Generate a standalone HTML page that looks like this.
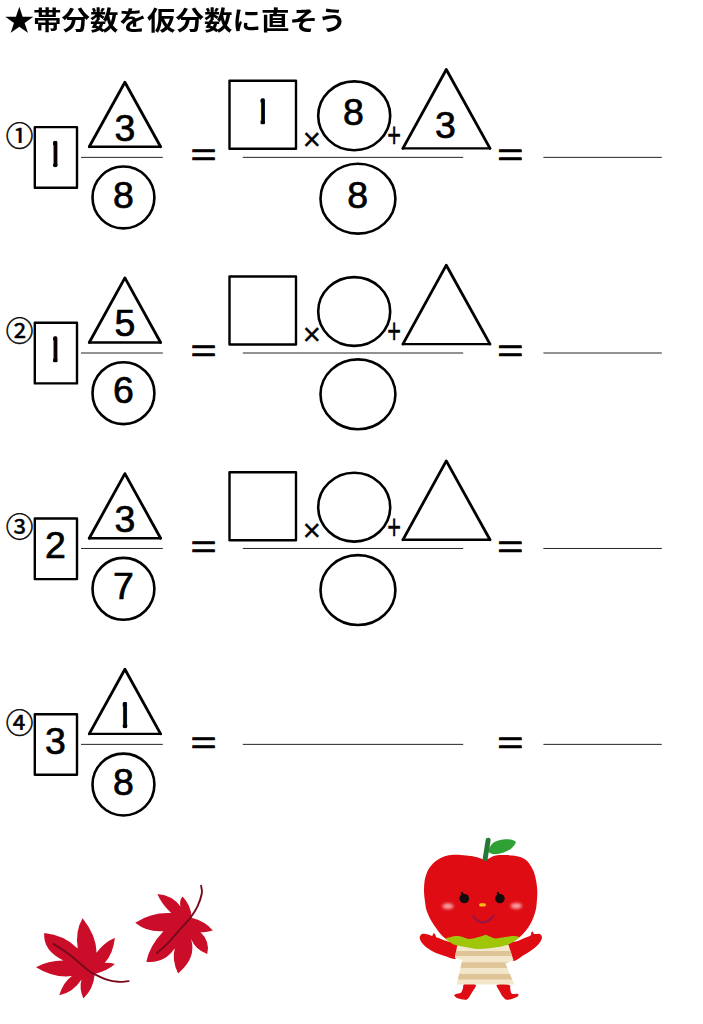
<!DOCTYPE html>
<html lang="ja">
<head>
<meta charset="utf-8">
<title>帯分数を仮分数に直そう</title>
<style>
html,body{margin:0;padding:0;background:#fff;}
body{width:703px;height:1024px;overflow:hidden;position:relative;font-family:"Liberation Sans","Noto Sans CJK JP",sans-serif;}
h1{position:absolute;left:4.6px;top:3px;margin:0;font-family:"Liberation Sans","Noto Sans CJK JP",sans-serif;font-weight:700;font-size:28.5px;line-height:40px;transform-origin:0 0;transform:scaleY(.91);color:#000;white-space:nowrap;}
h1 span{display:inline-block;transform:scale(1.04,1.12);transform-origin:45% 62%;}
svg{position:absolute;left:0;top:0;}
.s{fill:none;stroke:#000;stroke-width:2.4;stroke-linejoin:round;}
.r{stroke-linejoin:round;stroke-linecap:round;}
.k{stroke-width:2.8;}
.c2{stroke-width:2.6;}
.t{stroke:#000;stroke-width:.86;}
text{font-family:"Liberation Sans","Noto Sans CJK JP",sans-serif;fill:#000;text-anchor:middle;}
.d{font-size:36px;stroke:#000;stroke-width:.7px;stroke-linejoin:round;}
.c{font-size:27.6px;stroke:#000;stroke-width:.5px;stroke-linejoin:round;}
.e{font-size:40px;stroke:#000;stroke-width:.9px;stroke-linejoin:round;}
.o{stroke:#000;stroke-width:.35px;stroke-linejoin:round;}
</style>
</head>
<body>
<h1><span>★</span>帯分数を仮分数に直そう</h1>
<svg width="703" height="1024" viewBox="0 0 703 1024">
<defs><clipPath id="one"><rect x="-1.75" y="-25.9" width="4.5" height="26.8" rx="2.1"/></clipPath></defs>
<g>
<text class="c" x="19.45" y="145.5">①</text>
<rect class="s" x="34.8" y="127.1" width="42.2" height="60.6"/>
<g transform="translate(54.8 166.5)" clip-path="url(#one)"><text class="d" transform="scale(1.04 1)">1</text></g>
<polyline class="s r k" points="89.25,146.8 124.9,82.2 160.6,146.8"/><line class="s r" x1="89.25" y1="146.8" x2="160.6" y2="146.8"/>
<text class="d" transform="translate(125 140.7) scale(1.04 1)">3</text>
<line class="t" x1="81" y1="157.37" x2="162.8" y2="157.37"/>
<ellipse class="s c2" cx="123.45" cy="197.45" rx="30.95" ry="30.95"/>
<text class="d" transform="translate(123.4 207.5) scale(1.04 1)">8</text>
<text class="e" transform="translate(203.5 154.95) scale(1.12 0.8)" x="0" y="13.13">=</text>
<line class="t" x1="242.8" y1="157.37" x2="463.2" y2="157.37"/>
<rect class="s" x="229.5" y="80.8" width="66.5" height="68"/>
<g transform="translate(262.3 124.1)" clip-path="url(#one)"><text class="d" transform="scale(1.04 1)">1</text></g>
<text class="o" transform="translate(311.8 139.3) scale(1 1)" x="0" y="10.2" font-size="31">×</text>
<ellipse class="s c2" cx="354.2" cy="115.8" rx="36" ry="34.4"/>
<text class="d" transform="translate(353.5 125.4) scale(1.04 1)">8</text>
<text class="o" transform="translate(394 135.75) scale(0.84 1.25)" x="0" y="9.2" font-size="28">+</text>
<polyline class="s r k" points="402.9,148.4 446.3,69.5 490,148.4"/><line class="s r" x1="402.9" y1="148.4" x2="490" y2="148.4"/>
<text class="d" transform="translate(445.5 137.8) scale(1.04 1)">3</text>
<ellipse class="s c2" cx="357.95" cy="198.65" rx="37.45" ry="34.95"/>
<text class="d" transform="translate(357.6 207.9) scale(1.04 1)">8</text>
<text class="e" transform="translate(510.2 154.95) scale(1.12 0.8)" x="0" y="13.13">=</text>
<line class="t" x1="543.4" y1="157.37" x2="661.8" y2="157.37"/>
</g>
<g>
<text class="c" x="19.45" y="341.2">②</text>
<rect class="s" x="34.8" y="322.8" width="42.2" height="60.6"/>
<g transform="translate(54.8 362.2)" clip-path="url(#one)"><text class="d" transform="scale(1.04 1)">1</text></g>
<polyline class="s r k" points="89.25,342.5 124.9,277.9 160.6,342.5"/><line class="s r" x1="89.25" y1="342.5" x2="160.6" y2="342.5"/>
<text class="d" transform="translate(125 336.4) scale(1.04 1)">5</text>
<line class="t" x1="81" y1="353" x2="162.8" y2="353"/>
<ellipse class="s c2" cx="123.45" cy="393.15" rx="30.95" ry="30.95"/>
<text class="d" transform="translate(123.4 403.2) scale(1.04 1)">6</text>
<text class="e" transform="translate(203.5 350.65) scale(1.12 0.8)" x="0" y="13.13">=</text>
<line class="t" x1="242.8" y1="353" x2="463.2" y2="353"/>
<rect class="s" x="229.5" y="276.5" width="66.5" height="68"/>
<text class="o" transform="translate(311.8 335) scale(1 1)" x="0" y="10.2" font-size="31">×</text>
<ellipse class="s c2" cx="354.2" cy="311.5" rx="36" ry="34.4"/>
<text class="o" transform="translate(394 331.45) scale(0.84 1.25)" x="0" y="9.2" font-size="28">+</text>
<polyline class="s r k" points="402.9,344.1 446.3,265.2 490,344.1"/><line class="s r" x1="402.9" y1="344.1" x2="490" y2="344.1"/>
<ellipse class="s c2" cx="357.95" cy="394.35" rx="37.45" ry="34.95"/>
<text class="e" transform="translate(510.2 350.65) scale(1.12 0.8)" x="0" y="13.13">=</text>
<line class="t" x1="543.4" y1="353" x2="661.8" y2="353"/>
</g>
<g>
<text class="c" x="19.45" y="536.9">③</text>
<rect class="s" x="34.8" y="518.5" width="42.2" height="60.6"/>
<text class="d" transform="translate(55.3 558.1) scale(1.04 1)">2</text>
<polyline class="s r k" points="89.25,538.2 124.9,473.6 160.6,538.2"/><line class="s r" x1="89.25" y1="538.2" x2="160.6" y2="538.2"/>
<text class="d" transform="translate(125 532.1) scale(1.04 1)">3</text>
<line class="t" x1="81" y1="548.46" x2="162.8" y2="548.46"/>
<ellipse class="s c2" cx="123.45" cy="588.85" rx="30.95" ry="30.95"/>
<text class="d" transform="translate(123.4 598.9) scale(1.04 1)">7</text>
<text class="e" transform="translate(203.5 546.35) scale(1.12 0.8)" x="0" y="13.13">=</text>
<line class="t" x1="242.8" y1="548.46" x2="463.2" y2="548.46"/>
<rect class="s" x="229.5" y="472.2" width="66.5" height="68"/>
<text class="o" transform="translate(311.8 530.7) scale(1 1)" x="0" y="10.2" font-size="31">×</text>
<ellipse class="s c2" cx="354.2" cy="507.2" rx="36" ry="34.4"/>
<text class="o" transform="translate(394 527.15) scale(0.84 1.25)" x="0" y="9.2" font-size="28">+</text>
<polyline class="s r k" points="402.9,539.8 446.3,460.9 490,539.8"/><line class="s r" x1="402.9" y1="539.8" x2="490" y2="539.8"/>
<ellipse class="s c2" cx="357.95" cy="590.05" rx="37.45" ry="34.95"/>
<text class="e" transform="translate(510.2 546.35) scale(1.12 0.8)" x="0" y="13.13">=</text>
<line class="t" x1="543.4" y1="548.46" x2="661.8" y2="548.46"/>
</g>
<g>
<text class="c" x="19.45" y="732.6">④</text>
<rect class="s" x="34.8" y="714.2" width="42.2" height="60.6"/>
<text class="d" transform="translate(55.3 753.8) scale(1.04 1)">3</text>
<polyline class="s r k" points="89.25,733.9 124.9,669.3 160.6,733.9"/><line class="s r" x1="89.25" y1="733.9" x2="160.6" y2="733.9"/>
<g transform="translate(124.5 727.6)" clip-path="url(#one)"><text class="d" transform="scale(1.04 1)">1</text></g>
<line class="t" x1="81" y1="744.37" x2="162.8" y2="744.37"/>
<ellipse class="s c2" cx="123.45" cy="784.55" rx="30.95" ry="30.95"/>
<text class="d" transform="translate(123.4 794.6) scale(1.04 1)">8</text>
<text class="e" transform="translate(203.5 742.05) scale(1.12 0.8)" x="0" y="13.13">=</text>
<line class="t" x1="242.8" y1="744.37" x2="463.2" y2="744.37"/>
<text class="e" transform="translate(510.2 742.05) scale(1.12 0.8)" x="0" y="13.13">=</text>
<line class="t" x1="543.4" y1="744.37" x2="661.8" y2="744.37"/>
</g>
<defs><filter id="bl" x="-50%" y="-50%" width="200%" height="200%"><feGaussianBlur stdDeviation="1.6"/></filter></defs>
<path fill="#ca0d28" d="M77.7,948.4Q75.1,930.7 82.6,918.3Q96.3,935.6 96.6,952.7Q103.4,942.9 114.9,937.7Q113.3,953.4 104.7,962.9Q109.6,962.4 114.9,964.1Q107.4,970.9 94.7,974Q93.7,988.8 83.3,998.5Q79,988 81.5,979.4Q73.4,992.2 59.2,995.3Q63.7,981.6 72,976.1Q54.2,978.4 36,967.2Q48.1,960.4 63.4,960.5Q42.8,950.4 44.2,933Q64.2,935 77.7,948.4Z"/>
<path fill="none" stroke="#770a1a" stroke-width="1.9" stroke-linecap="round" d="M53.5,943.9C55.7,945.3 62.8,949.7 67,952.7C71.1,955.7 74.8,959 78.4,961.9C81.9,964.9 85.5,968.3 88.3,970.5C91.2,972.6 92.4,973.2 95.4,974.7C98.5,976.3 103,978.5 106.8,979.7C110.6,980.9 114.6,981.6 118.2,981.8C121.8,982.1 126.8,981.2 128.6,981.1"/>
<path fill="#ca0d28" d="M171.2,913.1Q161.3,903.4 157.4,893.9Q172.8,895.2 180.5,906.6Q179.2,900.3 182.6,896.6Q191.4,906 191.6,917.7Q205.4,921.3 212.9,930.5Q204.1,933 200.4,931.9Q210.5,941.5 207.2,953.9Q195.2,949.7 191.1,939Q196.8,957.9 178.1,973.4Q171.5,960.2 174.8,948.3Q164.3,963.8 146.3,961.8Q149.3,946 163.4,931.2Q147.3,932.5 135.2,922.7Q151.7,912.1 171.2,913.1Z"/>
<path fill="none" stroke="#770a1a" stroke-width="1.9" stroke-linecap="round" d="M157,953C158.8,951.3 164,947 167.7,943.3C171.3,939.5 175.3,934.7 179.1,930.5C182.8,926.2 187.4,921.7 190.4,917.7C193.5,913.6 195.6,910.3 197.5,906.3C199.4,902.3 201.2,896.9 201.8,893.5C202.4,890.1 201.2,887 201.1,885.7"/>
<path fill="#df0c13" d="M464.8,983.8C462.6,984.4 463.5,987.3 462.8,988.7C462.1,990.2 462,991.9 460.8,992.7C459.7,993.6 456.9,993.4 455.8,993.9C454.8,994.4 454,995 454.3,995.7C454.7,996.4 456.1,997.5 457.8,998.2C459.6,998.9 463.1,999.6 464.8,999.7C466.5,999.8 466.6,999.9 467.8,998.7C469,997.5 470.4,995.1 471.8,992.7C473.1,990.4 476.9,986.3 475.8,984.8C474.6,983.3 467,983.1 464.8,983.8Z"/>
<path fill="#df0c13" d="M496.9,984.8C495.4,985.9 498.9,989.7 499.9,991.7C500.9,993.7 501.7,995.4 502.9,996.7C504.1,998 505.1,999.5 506.9,999.7C508.7,1000 512,998.9 513.9,998.2C515.8,997.5 517.8,996.5 518.3,995.7C518.9,995 518.4,994.1 517.4,993.7C516.3,993.4 513,994.4 511.9,993.7C510.7,993.1 510.9,991.2 510.4,989.7C509.9,988.2 511.1,985.6 508.9,984.8C506.6,983.9 498.4,983.6 496.9,984.8Z"/>
<path fill="#df0c13" d="M458.8,944.9C457.5,942.1 451,942.5 447.9,941.4C444.7,940.4 441.8,939.2 439.9,938.4C438,937.7 437.2,937.9 436.4,937.2C435.6,936.4 435.4,934.6 434.9,934C434.4,933.3 433.9,933.2 433.4,933.5C433,933.8 433,935.6 432.1,935.8C431.2,935.9 429.5,934.8 427.9,934.5C426.4,934.1 424.2,933.6 423,933.8C421.7,933.9 421,934.7 420.5,935.5C419.9,936.2 419.4,937.1 419.8,938.4C420.1,939.8 421.1,941.8 422.5,943.4C423.8,945.1 425.7,946.8 427.7,948.3C429.8,949.8 432.1,951.3 434.9,952.6C437.8,953.9 441.4,955.1 444.9,956.1C448.4,957 453.5,960.2 455.8,958.4C458.2,956.5 460.2,947.7 458.8,944.9Z"/>
<path fill="#df0c13" d="M506.9,944.4C507.7,941.2 514.7,942.1 517.8,940.9C521,939.8 523.7,938.4 525.8,937.5C527.9,936.5 529.7,936.3 530.6,935.5C531.5,934.6 530.9,933.1 531.3,932.5C531.7,931.8 532.3,931.2 532.8,931.5C533.3,931.7 533.1,933.5 534.3,934C535.4,934.4 538.5,933.5 539.8,934C541,934.4 541.5,935.5 541.8,936.5C542,937.5 541.9,938.5 541.3,939.9C540.6,941.4 539.3,943.3 537.8,944.9C536.2,946.6 534.1,948.2 531.8,949.9C529.5,951.6 527,953.1 523.8,954.9C520.7,956.6 515.7,962.1 512.9,960.4C510,958.6 506.1,947.7 506.9,944.4Z"/>
<clipPath id="dr"><path d="M457.3,944.9L454.8,957.9L462.3,959.7L456.8,984.5L514.4,984.5L505.4,963.6L513.4,959.9L508.4,944.4Z"/></clipPath>
<path fill="#f3e7cb" d="M457.3,944.9L454.8,957.9L462.3,959.7L456.8,984.5L514.4,984.5L505.4,963.6L513.4,959.9L508.4,944.4Z"/>
<g clip-path="url(#dr)" fill="#dfc498"><rect x="440" y="951" width="90" height="5"/><rect x="440" y="962.3" width="90" height="5.6"/><rect x="440" y="973.9" width="90" height="5.6"/></g>
<path fill="#df0c13" d="M484.5,859.6C486.4,859.8 487.3,859 489,858.4C490.7,857.8 492.2,856.2 494.9,855.7C497.5,855.2 501.6,855.1 504.9,855.1C508.2,855.1 511.8,855.2 514.8,855.7C517.8,856.2 520.5,856.9 522.8,858.1C525.1,859.3 527,860.6 528.8,862.9C530.6,865.2 532.5,868.6 533.8,871.8C535,874.9 535.7,878.5 536.3,881.8C536.9,885.1 537.2,888.5 537.3,891.8C537.4,895.1 537.1,898.4 536.8,901.7C536.5,905 536.5,907.8 535.3,911.7C534.1,915.6 532.4,920.8 529.8,925C527.2,929.2 523.9,933.8 519.8,937C515.7,940.2 511,942.5 505,944C499,945.5 491.2,946 484,946C476.8,946 468.4,945.2 462,944C455.6,942.8 450.6,942.1 445.9,938.9C441.2,935.7 437,929.5 433.9,925C430.8,920.5 428.5,915.6 427,911.7C425.5,907.8 425.5,905 425,901.7C424.5,898.4 424.1,895.1 424,891.8C423.9,888.5 424.1,884.8 424.5,881.8C424.9,878.8 425.6,876.3 426.5,873.8C427.4,871.3 428.4,869 430,866.9C431.6,864.8 433.8,862.6 435.9,860.9C438,859.2 440.4,857.9 442.9,856.9C445.4,855.9 447.9,855.4 450.9,855.1C453.9,854.8 457.5,854.8 460.8,854.9C464.1,855 468,855.5 470.8,855.9C473.6,856.3 475.5,856.8 477.8,857.4C480.1,858 482.6,859.4 484.5,859.6Z"/>
<path fill="#a0c609" d="M445.9,939.1C445.7,938.1 449,937.5 450.9,937C452.7,936.4 455,936 456.8,936C458.7,935.9 459.8,936.3 461.8,936.8C463.8,937.3 466.3,938.8 468.8,938.9C471.3,939.1 474.3,938 476.8,937.5C479.2,936.9 482.2,935.9 483.7,935.5C485.3,935 484.8,934.7 486,935C487.2,935.2 489.3,936.4 491,937C492.6,937.5 493.6,938.4 495.9,938.4C498.3,938.4 502.1,937.4 504.9,937C507.7,936.5 510.5,935.9 512.9,936C515.3,936 519,936.3 519.3,937.2C519.7,938 516.9,939.6 514.9,940.9C512.8,942.2 510.2,943.8 506.9,944.9C503.6,946 499.4,946.7 494.9,947.4C490.5,948.1 484,948.8 480,948.9C476,949 474.5,948.5 470.8,947.9C467.1,947.3 461,946.2 457.8,945.4C454.7,944.7 453.8,944.5 451.9,943.4C449.9,942.4 446,940.2 445.9,939.1Z"/>
<path fill="#2fa034" d="M488.4,850.6C488.7,848.9 490.6,845.1 492.5,843.4C494.4,841.7 496.8,840.9 499.5,840.2C502.2,839.5 505.8,839 508.5,839.3C511.2,839.6 515.1,840.5 515.7,841.9C516.3,843.3 513.7,846.2 511.9,847.9C510.1,849.6 507.4,850.9 504.9,851.9C502.4,852.9 499.2,853.8 496.9,854.1C494.6,854.4 492.3,854.2 490.9,853.6C489.5,853 488.1,852.3 488.4,850.6Z"/>
<path fill="none" stroke="#277a33" stroke-width="5" stroke-linecap="round" d="M485.2,858.6 L488.1,840.3"/>
<ellipse cx="447.9" cy="906.2" rx="5.6" ry="2.9" fill="#ffc4c8" opacity=".8" filter="url(#bl)"/>
<ellipse cx="516.3" cy="905.9" rx="5.6" ry="2.9" fill="#ffc4c8" opacity=".8" filter="url(#bl)"/>
<ellipse cx="464.3" cy="898.6" rx="4.8" ry="4.7" fill="#140b0c"/>
<path fill="none" stroke="#140b0c" stroke-width="2.4" stroke-linecap="round" d="M463.7,896.1 L461.9,893"/>
<ellipse cx="499.9" cy="898.6" rx="4.8" ry="4.7" fill="#140b0c"/>
<path fill="none" stroke="#140b0c" stroke-width="2.4" stroke-linecap="round" d="M499.3,896.1 L497.8,893"/>
<rect x="479.1" y="903.3" width="6.8" height="3.3" rx="1.6" fill="#f7bb17"/>
<path fill="none" stroke="#93164a" stroke-width="2.1" stroke-linecap="round" d="M473.3,916C474.1,916.8 476.1,919.6 477.7,920.6C479.4,921.7 481.4,922.5 483.3,922.4C485.2,922.3 487.5,921.3 489.3,920.2C491,919.1 492.9,916.4 493.6,915.6"/>
</svg>
</body>
</html>
